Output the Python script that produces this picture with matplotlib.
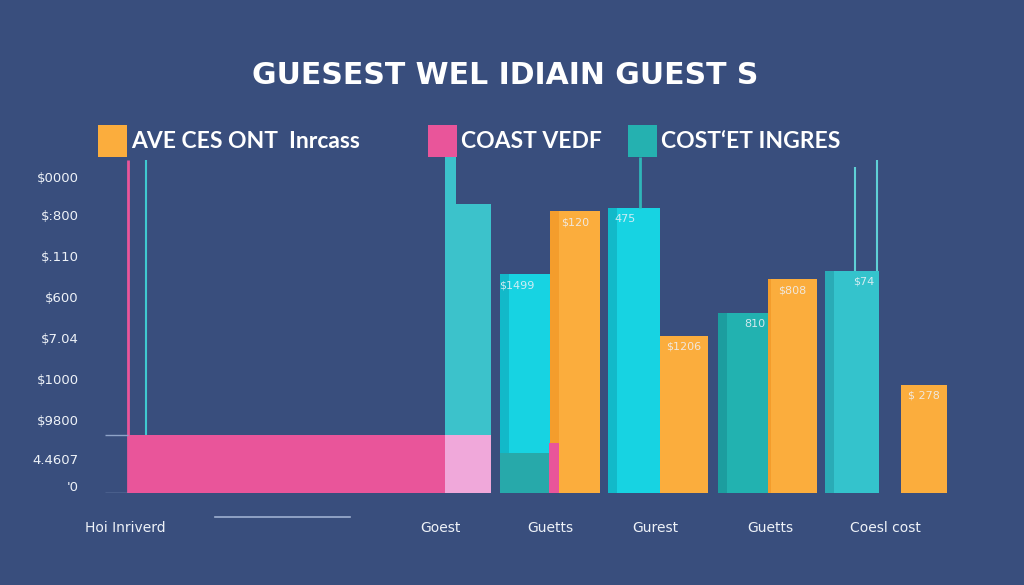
import matplotlib.pyplot as plt
from matplotlib.patches import Rectangle
from matplotlib.lines import Line2D

# --- data ---
title = "GUESEST WEL IDIAIN GUEST S"
legend_labels = ["AVE CES ONT  Inrcass", "COAST VEDF", "COST\u2018ET INGRES"]
categories = ["Hoi Inriverd", "Goest", "Guetts", "Gurest", "Guetts", "Coesl cost"]

ytick_values = [7740, 6810, 5800, 4800, 3800, 2790, 1790, 830, 170]
ytick_labels = ["$0000", "$:800", "$.110", "$600", "$7.04", "$1000", "$9800", "4.4607", "'0"]

pink_values = [1420, 1220]          # wide first bar, sliver in group 2
light_pink_value = 1420
teal_big_value = 7080
teal_strip_value = 8280
cyan_values = [5360, 6980]          # groups 2, 3
cyan_dark_base = 980
orange_values = [6900, 3850, 5240, 2650]
teal_values = [4410, 5440]          # groups 4, 5
line_tops = [8150, 8150, 8230, 7980, 8150]

cyan_labels = ["$1499", "475"]
orange_labels = ["$120", "$1206", "$808", "$ 278"]
teal_labels = ["810", "$74"]

# --- colours ---
BG = "#394e7d"
ORANGE, ORANGE_D = "#fbad3d", "#f49d2c"
CYAN, CYAN_D = "#17d3e2", "#12b9c9"
TEAL_BIG = "#3cc2cb"
TEAL4, TEAL4_D = "#22b2b0", "#1c9d9f"
TEAL5, TEAL5_D = "#34c3cc", "#2aabb6"
PINK, LPINK = "#e9559a", "#f0a8da"
TXT = "#eef2f8"

fig = plt.figure(figsize=(10.24, 5.85), dpi=100, facecolor=BG)
W, H = 1024, 585
ax = fig.add_axes([98 / W, (H - 493) / H, 852 / W, 343 / H])
ax.set_facecolor(BG)
ax.set_xlim(0, 852)
ax.set_ylim(0, 8400)
for s in ax.spines.values():
    s.set_visible(False)

def shaded_bar(x, w, top, col, dark, bottom=0, shade=9):
    ax.bar(x, top - bottom, w, bottom=bottom, align="edge", color=col, lw=0)
    ax.bar(x, top - bottom, shade, bottom=bottom, align="edge", color=dark, lw=0)

# group 1: wide pink bar with two thin lines
ax.bar(30, pink_values[0], 317, align="edge", color=PINK, lw=0)
ax.vlines(30, 0, line_tops[0], color=PINK, lw=2)
ax.vlines(48, pink_values[0], line_tops[1], color="#3fc8d0", lw=1.5)
ax.hlines([pink_values[0], 0], 7, 30, color="#8fa3c8", lw=1)

# big teal column
ax.bar(347, light_pink_value, 46, align="edge", color=LPINK, lw=0)
ax.bar(347, teal_big_value - light_pink_value, 46, bottom=light_pink_value,
       align="edge", color=TEAL_BIG, lw=0)
ax.bar(347, teal_strip_value - teal_big_value, 11, bottom=teal_big_value,
       align="edge", color=TEAL_BIG, lw=0)

# group 2
shaded_bar(402, 50, cyan_values[0], CYAN, CYAN_D)
ax.bar(402, cyan_dark_base, 49, align="edge", color="#27a9aa", lw=0)
shaded_bar(452, 50, orange_values[0], ORANGE, ORANGE_D)
ax.bar(451, pink_values[1], 10, align="edge", color=PINK, lw=0)

# group 3
shaded_bar(510, 52, cyan_values[1], CYAN, CYAN_D)
ax.vlines(542, cyan_values[1], line_tops[2], color="#2fb6b8", lw=2)
shaded_bar(562, 48, orange_values[1], ORANGE, ORANGE, shade=1)

# group 4
shaded_bar(620, 50, teal_values[0], TEAL4, TEAL4_D)
shaded_bar(670, 49, orange_values[2], ORANGE, ORANGE_D, shade=3)

# group 5
shaded_bar(727, 54, teal_values[1], TEAL5, TEAL5_D)
ax.vlines([757, 779], teal_values[1], line_tops[3:], color="#5fd0d6", lw=1.5)
shaded_bar(803, 46, orange_values[3], ORANGE, ORANGE, shade=1)

# value labels
lab_kw = dict(textcoords="offset pixels", ha="center", va="top",
              color=TXT, fontsize=8, alpha=0.85)
for x, v, t in zip([427, 535], cyan_values, cyan_labels):
    ax.annotate(t, (x, v), xytext=(-8, -6), **lab_kw)
for x, v, t in zip([477, 586, 694, 826], orange_values, orange_labels):
    ax.annotate(t, (x, v), xytext=(0, -6), **lab_kw)
for x, v, t in zip([645, 754], teal_values, teal_labels):
    ax.annotate(t, (x, v), xytext=(12, -6), **lab_kw)

# axes ticks
ax.set_yticks(ytick_values)
ax.set_yticklabels(ytick_labels, color=TXT, fontsize=9.5)
ax.tick_params(axis="y", length=0, pad=14)
ax.set_xticks([27, 342, 452, 557, 672, 787])
ax.set_xticklabels(categories, color=TXT, fontsize=10)
ax.tick_params(axis="x", length=0, pad=20)

fig.add_artist(Line2D([215 / W, 350 / W], [(H - 517) / H] * 2,
                      color="#9fb0d0", lw=1.2))

# title
fig.text(505 / W, 1 - 76 / H, title, ha="center", va="center",
         color="white", fontsize=21.5, fontweight="bold", family="DejaVu Sans")

# legend
leg_cols = [ORANGE, PINK, "#25b1b0"]
leg_x = [98, 428, 628]
for x, c, t in zip(leg_x, leg_cols, legend_labels):
    fig.add_artist(Rectangle((x / W, (H - 157) / H), 29 / W, 32 / H,
                             color=c, lw=0))
    fig.text((x + 33) / W, 1 - 141 / H, t, ha="left", va="center",
             color="white", fontsize=16.5, fontweight="bold", family="Lato")

fig.savefig("out.png", dpi=100, facecolor=BG)
